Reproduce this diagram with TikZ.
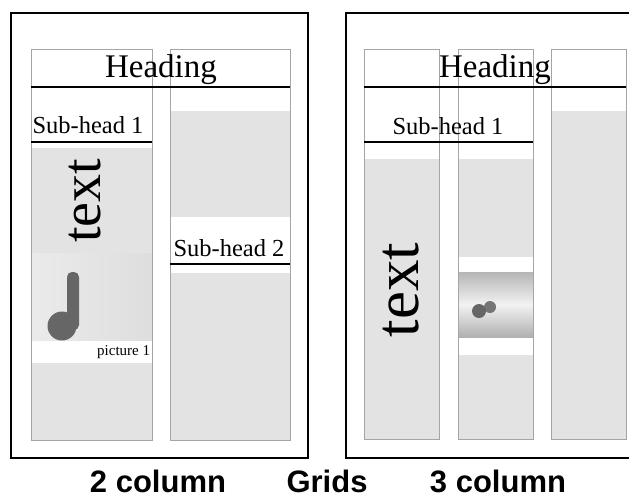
\documentclass[tikz,border=0pt]{standalone}
\usepackage{fontspec}
\setmainfont{Liberation Serif}
\newfontfamily\captionsans{Liberation Sans}
\usetikzlibrary{calc}
\definecolor{colfill}{RGB}{227,227,227}
\definecolor{colline}{RGB}{165,165,165}
\definecolor{picdark}{RGB}{102,102,102}
\begin{document}
\begin{tikzpicture}[x=1pt,y=-1pt,
  column/.style={draw=colline,line width=0.9pt},
  block/.style={fill=colfill},
  rule/.style={draw=black,line width=1.3pt},
  frame/.style={draw=black,line width=1.8pt},
  headtext/.style={inner sep=0pt,anchor=base,font=\fontsize{33}{38}\selectfont},
  subtext/.style={inner sep=0pt,anchor=base,font=\fontsize{24.5}{28}\selectfont},
  bodytext/.style={inner sep=0pt,anchor=base,rotate=90},
  gridlabel/.style={inner sep=0pt,anchor=base,font=\captionsans\bfseries\fontsize{31}{36}\selectfont}]
\clip (0,0) rectangle (629,496);
\fill[white] (0,0) rectangle (629,496);

% ---------------- two-column page ----------------
% grey text blocks
\fill[block] (31,148) rectangle (152,253);
\fill[block] (31,363) rectangle (152,440);
\fill[block] (170,111) rectangle (290,217);
\fill[block] (170,273) rectangle (290,440);
% picture 1
\shade[left color=gray!16,right color=gray!26] (31,253) rectangle (152,340);
\fill[picdark,rounded corners=5pt] (67,272) rectangle (79,330);
\fill[picdark] (62,326) circle (14.5);
\begin{scope}
  \clip (31,340) rectangle (152,363);
  \node[inner sep=0pt,anchor=base west,font=\fontsize{15}{18}\selectfont] (pic1cap) at (97,355) {picture 1};
\end{scope}
% column outlines
\draw[column] (31,49) rectangle (152,440);
\draw[column] (170,49) rectangle (290,440);
% heading rules
\draw[rule] (31,87) -- (290,87);
\draw[rule] (31,142) -- (152,142);
\draw[rule] (170,264) -- (290,264);
% texts
\node[headtext] (headA) at (161,77) {Heading};
\node[subtext] (subA1) at (88,133) {Sub-head 1};
\node[subtext] (subA2) at (229,256) {Sub-head 2};
\node[bodytext,font=\fontsize{56}{60}\selectfont] (textA) at (100,201) {text};
% page frame
\draw[frame] (11,13) rectangle (308,458);

% ---------------- three-column page ----------------
\fill[block] (364,159) rectangle (439,439);
\fill[block] (458,159) rectangle (533,257);
\fill[block] (458,355) rectangle (533,439);
\fill[block] (551,111) rectangle (626,439);
% picture
\shade[top color=gray!58,bottom color=gray!62,middle color=gray!10] (458,272) rectangle (533,337);
\fill[picdark!90] (490,307) circle (6);
\fill[picdark] (479,311) circle (7);
% column outlines
\draw[column] (364,49) rectangle (439,439);
\draw[column] (458,49) rectangle (533,439);
\draw[column] (551,49) rectangle (626,439);
% heading rules
\draw[rule] (364,87) -- (626,87);
\draw[rule] (364,142) -- (533,142);
% texts
\node[headtext] (headB) at (495,77) {Heading};
\node[subtext] (subB1) at (448,134) {Sub-head 1};
\node[bodytext,font=\fontsize{63}{68}\selectfont] (textB) at (418,290) {text};
% page frame
\draw[frame] (346,13) rectangle (640,458);

% ---------------- captions ----------------
\node[gridlabel] (two) at (158,492) {2 column};
\node[gridlabel] (grids) at (327,492) {Grids};
\node[gridlabel] (three) at (498,492) {3 column};
\end{tikzpicture}
\end{document}
